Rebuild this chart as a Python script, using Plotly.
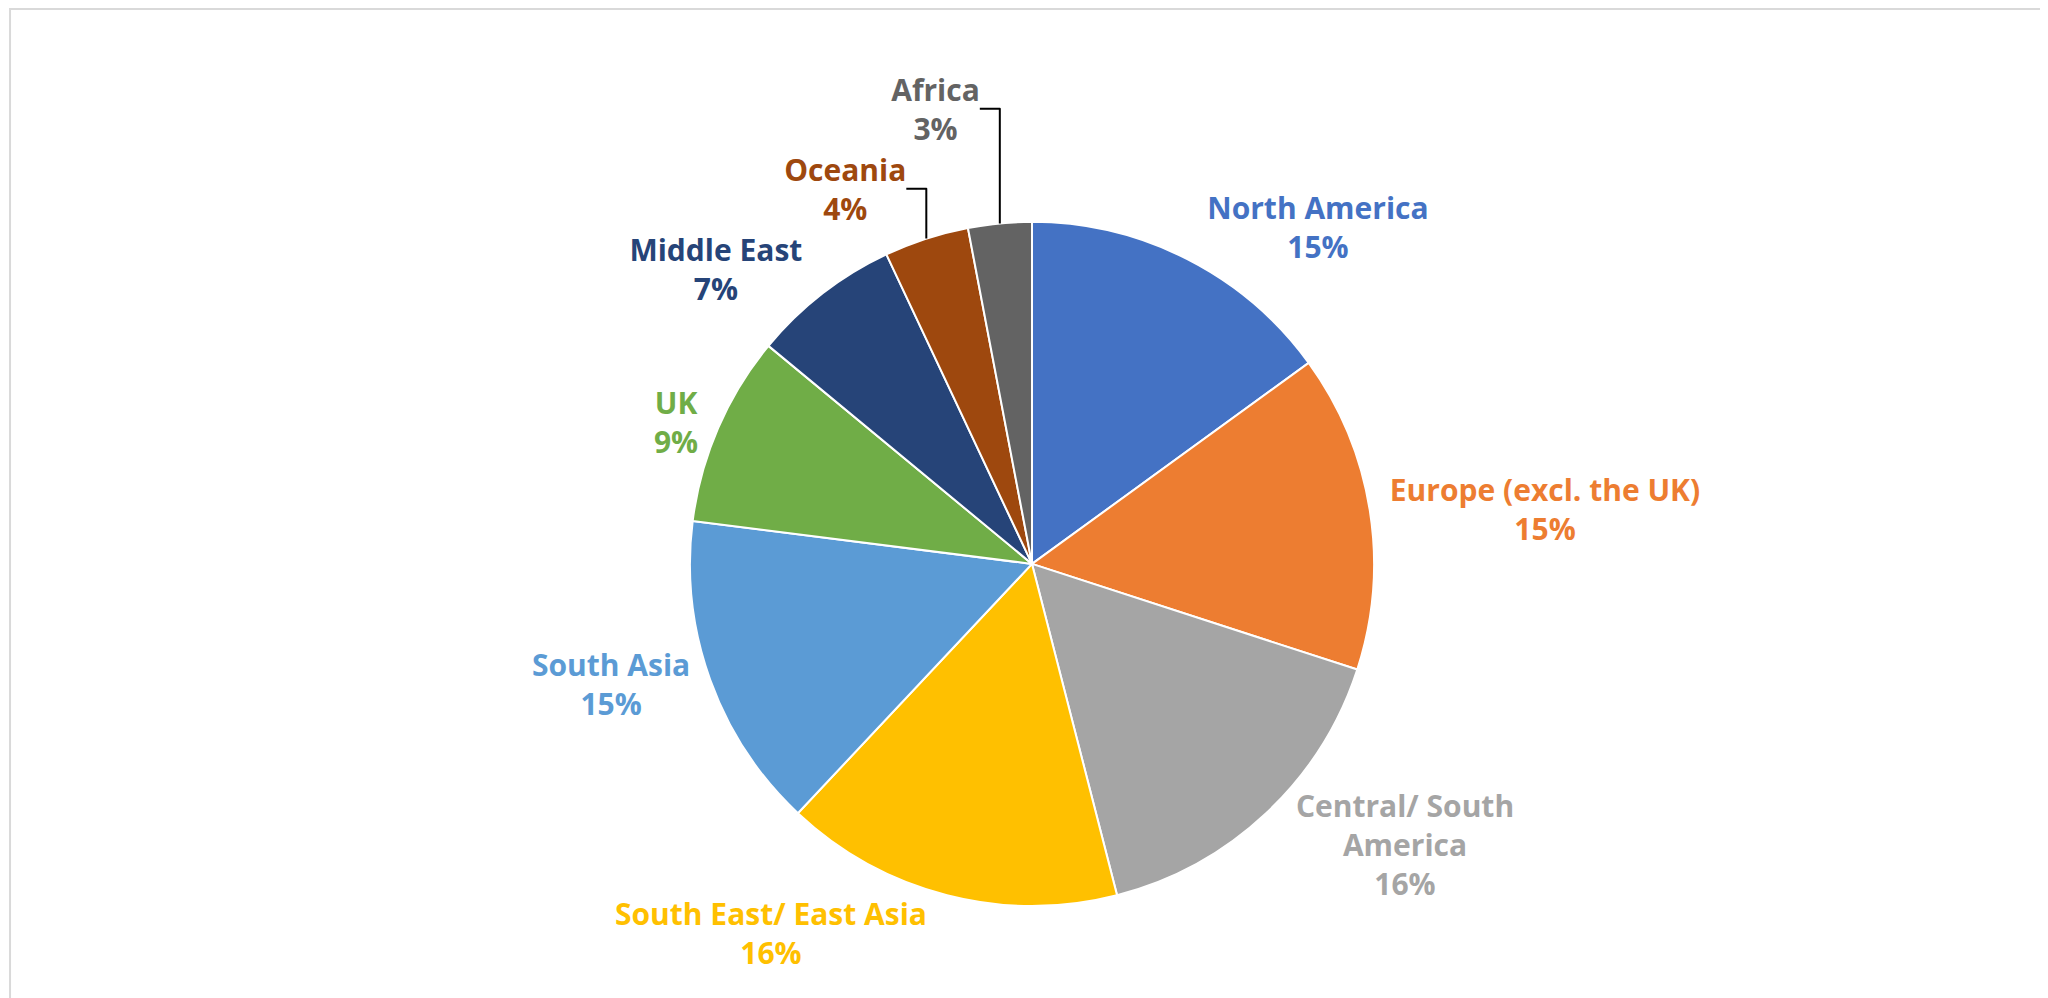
import plotly.graph_objects as go

labels = ["North America", "Europe (excl. the UK)", "Central/ South<br>America", "South East/ East Asia",
          "South Asia", "UK", "Middle East", "Oceania", "Africa"]
values = [15, 15, 16, 16, 15, 9, 7, 4, 3]
colors = ["#4472C4", "#ED7D31", "#A5A5A5", "#FFC000", "#5B9BD5", "#70AD47", "#264478", "#9E480E", "#636363"]

fig = go.Figure(go.Pie(
    labels=labels, values=values, sort=False, direction="clockwise", rotation=0,
    marker=dict(colors=colors, line=dict(color="white", width=2)),
    textposition="outside", texttemplate="<b>%{label}<br>%{percent:.0%}</b>",
    outsidetextfont=dict(color=colors, size=30, family="Open Sans"),
    domain=dict(x=[0.333, 0.667], y=[0.10, 0.786]),
    showlegend=False, automargin=False,
))
fig.update_layout(
    width=2048, height=998, margin=dict(l=0, r=0, t=0, b=0),
    paper_bgcolor="white",
    shapes=[dict(type="rect", xref="paper", yref="paper", x0=0.001, y0=0.001, x1=0.999, y1=0.999,
                 line=dict(color="#D9D9D9", width=2))],
)
fig.write_html("out.html")
